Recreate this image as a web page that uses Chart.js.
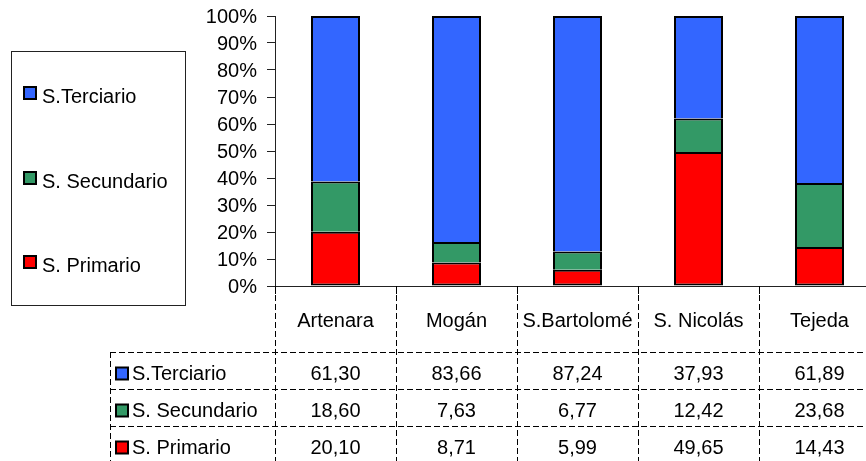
<!DOCTYPE html>
<html>
<head>
<meta charset="utf-8">
<script src="https://cdn.jsdelivr.net/npm/chart.js@4/dist/chart.umd.min.js"></script>
<style>
  html, body { margin: 0; padding: 0; background: #fff; overflow: hidden; width: 866px; height: 461px; }
  #wrap { position: relative; width: 880px; height: 461px; }
</style>
</head>
<body>
<div id="wrap"><canvas id="c"></canvas></div>
<script>
const categories = ['Artenara', 'Mogán', 'S.Bartolomé', 'S. Nicolás', 'Tejeda'];
const seriesNames = ['S.Terciario', 'S. Secundario', 'S. Primario'];
const terciario = [61.30, 83.66, 87.24, 37.93, 61.89];
const secundario = [18.60, 7.63, 6.77, 12.42, 23.68];
const primario = [20.10, 8.71, 5.99, 49.65, 14.43];
const yTickValues = [0, 10, 20, 30, 40, 50, 60, 70, 80, 90, 100];

const COLORS = { 'S.Terciario': '#3366FF', 'S. Secundario': '#339966', 'S. Primario': '#FF0000' };
const FONT = 'Liberation Sans, Arial, sans-serif';
const tableRows = [
  { name: seriesNames[0], values: terciario },
  { name: seriesNames[1], values: secundario },
  { name: seriesNames[2], values: primario }
];
const fmt = v => v.toFixed(2).replace('.', ',');

const tablePlugin = {
  id: 'tablePlugin',
  afterDraw(chart) {
    const ctx = chart.ctx;
    const x = chart.scales.x;
    const area = chart.chartArea;
    const n = categories.length;
    const step = (x.getPixelForValue(1) - x.getPixelForValue(0));
    const bounds = [];
    for (let i = 0; i <= n; i++) bounds.push(x.getPixelForValue(0) - step / 2 + i * step);
    const axisY = area.bottom;
    const tableTop = 352, rowH = 37, tableLeft = 110, bottom = 470;
    ctx.save();
    ctx.strokeStyle = '#000';
    ctx.lineWidth = 1;
    ctx.setLineDash([6, 3]);
    bounds.forEach(b => {
      const bx = Math.round(b) + 0.5;
      ctx.beginPath(); ctx.moveTo(bx, axisY); ctx.lineTo(bx, bottom); ctx.stroke();
    });
    ctx.beginPath(); ctx.moveTo(tableLeft + 0.5, tableTop); ctx.lineTo(tableLeft + 0.5, bottom); ctx.stroke();
    for (let r = 0; r < tableRows.length; r++) {
      const y = tableTop + r * rowH + 0.5;
      ctx.beginPath(); ctx.moveTo(tableLeft, y); ctx.lineTo(bounds[n], y); ctx.stroke();
    }
    ctx.setLineDash([]);
    ctx.font = '20px ' + FONT;
    ctx.textBaseline = 'middle';
    tableRows.forEach((row, r) => {
      const cy = tableTop + r * rowH + rowH / 2;
      ctx.fillStyle = COLORS[row.name];
      ctx.fillRect(116, cy - 3, 12, 12);
      ctx.lineWidth = 2;
      ctx.strokeStyle = '#000';
      ctx.strokeRect(116, cy - 3, 12, 12);
      ctx.fillStyle = '#000';
      ctx.textAlign = 'left';
      ctx.fillText(row.name, 132, cy + 4);
      ctx.textAlign = 'center';
      row.values.forEach((v, i) => {
        ctx.fillText(fmt(v), x.getPixelForValue(i), cy + 4);
      });
    });
    ctx.lineWidth = 1;
    ctx.strokeStyle = '#222';
    ctx.strokeRect(11.5, 51.5, 174, 254);
    const legendY = [97, 182, 266];
    seriesNames.forEach((name, k) => {
      const ky = legendY[k];
      ctx.fillStyle = COLORS[name];
      ctx.fillRect(24, ky - 10, 12, 12);
      ctx.lineWidth = 2;
      ctx.strokeStyle = '#000';
      ctx.strokeRect(24, ky - 10, 12, 12);
      ctx.fillStyle = '#000';
      ctx.textAlign = 'left';
      ctx.fillText(name, 42, ky);
    });
    ctx.restore();
  }
};

const common = { borderColor: '#000', borderSkipped: false, barPercentage: 0.405, categoryPercentage: 1.0 };

new Chart(document.getElementById('c'), {
  type: 'bar',
  data: {
    labels: categories,
    datasets: [
      Object.assign({ label: seriesNames[2], data: primario, backgroundColor: COLORS[seriesNames[2]],
        borderWidth: { top: 2, bottom: 2, left: 2, right: 2 } }, common),
      Object.assign({ label: seriesNames[1], data: secundario, backgroundColor: COLORS[seriesNames[1]],
        borderWidth: { top: 2, bottom: 0, left: 2, right: 2 } }, common),
      Object.assign({ label: seriesNames[0], data: terciario, backgroundColor: COLORS[seriesNames[0]],
        borderWidth: { top: 2, bottom: 0, left: 2, right: 2 } }, common)
    ]
  },
  options: {
    responsive: true,
    maintainAspectRatio: false,
    animation: false,
    layout: { padding: { top: 0, left: 0, right: 0, bottom: 0 } },
    plugins: { legend: { display: false }, tooltip: { enabled: false } },
    scales: {
      x: {
        stacked: true,
        grid: { offset: true, drawOnChartArea: false, drawTicks: true, tickLength: 8, color: '#000' },
        border: { display: true, color: '#222', width: 1 },
        ticks: { color: '#000', font: { family: FONT, size: 20 }, padding: 15, maxRotation: 0, autoSkip: false },
        afterFit(scale) { scale.height = 175; }
      },
      y: {
        stacked: true,
        min: 0, max: 100,
        afterBuildTicks(scale) { scale.ticks = yTickValues.map(v => ({ value: v })); },
        grid: { drawOnChartArea: false, drawTicks: true, tickLength: 8, color: '#222' },
        border: { display: true, color: '#222', width: 1 },
        ticks: { color: '#000', font: { family: FONT, size: 20, lineHeight: 0.6 }, padding: 10, autoSkip: false, labelOffset: 1, callback: v => v + '%' },
        afterFit(scale) { scale.width = 275; }
      }
    }
  },
  plugins: [tablePlugin]
});
</script>
</body>
</html>
